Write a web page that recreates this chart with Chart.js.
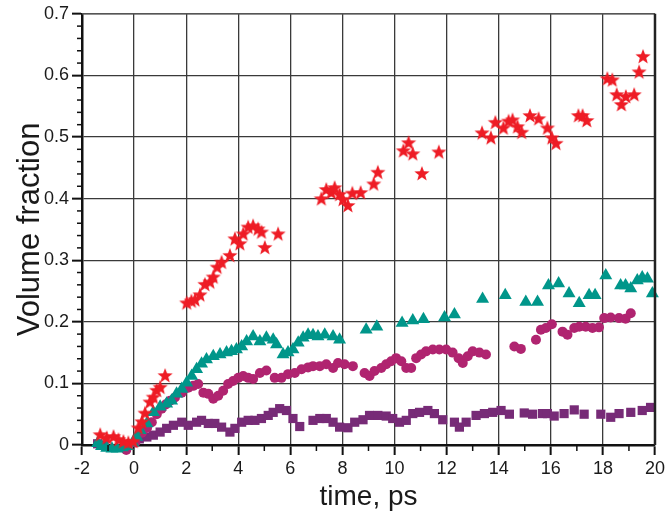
<!DOCTYPE html>
<html>
<head>
<meta charset="utf-8">
<script src="https://cdn.jsdelivr.net/npm/chart.js@4.4.1/dist/chart.umd.min.js"></script>
<style>
  html, body { margin: 0; padding: 0; background: #fff; }
  canvas { display: block; }
</style>
</head>
<body>
<canvas id="grafico" width="668" height="517"></canvas>
<script>
// series: [time (ps), volume fraction]
const estrelas = [[-1.30,0.016],[-1.05,0.011],[-0.79,0.013],[-0.60,0.008],[-0.41,0.005],[-0.22,0.003],[-0.03,0.005],[0.16,0.027],[0.30,0.037],[0.42,0.051],[0.61,0.069],[0.74,0.077],[0.87,0.088],[1.00,0.093],[1.19,0.112],
  [2.02,0.230],[2.20,0.233],[2.34,0.235],[2.53,0.243],[2.72,0.260],[2.91,0.264],[3.04,0.272],[3.19,0.288],[3.36,0.296],[3.68,0.307],[3.87,0.334],[4.06,0.326],[4.19,0.342],[4.38,0.353],[4.57,0.355],[4.76,0.350],[4.89,0.345],[5.02,0.320],[5.53,0.342],
  [7.19,0.399],[7.38,0.414],[7.57,0.409],[7.70,0.417],[7.89,0.406],[8.02,0.398],[8.21,0.388],[8.38,0.408],[8.70,0.409],[9.20,0.423],[9.36,0.442],[10.34,0.477],[10.54,0.490],[10.70,0.472],[11.05,0.440],[11.70,0.475],
  [13.36,0.506],[13.70,0.498],[13.87,0.523],[14.18,0.514],[14.38,0.525],[14.53,0.527],[14.72,0.516],[14.88,0.507],[15.20,0.534],[15.53,0.529],[15.87,0.514],[16.04,0.498],[16.20,0.489],[17.06,0.534],[17.22,0.534],[17.38,0.526],
  [18.17,0.594],[18.36,0.592],[18.53,0.568],[18.71,0.552],[18.88,0.565],[19.20,0.568],[19.39,0.605],[19.54,0.630]];

const triangulos = [[-1.40,0.003],[-1.25,-0.002],[-1.05,-0.005],[-0.85,-0.006],[-0.65,-0.006],[-0.45,-0.004],[-0.25,-0.002],[-0.05,0.004],[0.10,0.013],[0.23,0.024],[0.49,0.035],[0.74,0.053],[1.00,0.062],[1.25,0.067],[1.44,0.072],[1.63,0.083],[1.83,0.091],
  [2.02,0.101],[2.21,0.112],[2.40,0.123],[2.59,0.132],[2.78,0.139],[3.04,0.144],[3.30,0.147],[3.55,0.150],[3.74,0.152],[3.93,0.155],[4.13,0.160],[4.32,0.168],[4.57,0.176],[4.83,0.168],[5.08,0.174],[5.34,0.171],[5.47,0.163],[5.72,0.147],[5.91,0.150],
  [6.10,0.155],[6.30,0.166],[6.49,0.174],[6.68,0.179],[6.87,0.178],[7.06,0.176],[7.32,0.179],[7.64,0.176],[7.89,0.171],[8.91,0.187],[9.32,0.192],[10.29,0.198],[10.70,0.202],[11.11,0.204],[11.92,0.207],[12.30,0.212],
  [13.38,0.237],[14.25,0.243],[15.04,0.232],[15.49,0.232],[15.91,0.259],[16.30,0.262],[16.70,0.246],[17.09,0.230],[17.47,0.243],[17.70,0.243],[18.11,0.275],[18.68,0.259],[18.87,0.259],[19.07,0.254],[19.32,0.267],[19.51,0.272],[19.71,0.270],[19.90,0.246]];

const circulos = [[-0.30,-0.008],[-0.15,-0.012],[0.05,0.004],[0.30,0.020],[0.50,0.028],[0.68,0.037],[0.87,0.050],[1.06,0.059],[1.22,0.066],[1.38,0.072],[1.57,0.077],[1.83,0.085],[2.08,0.093],[2.27,0.096],[2.46,0.099],[2.66,0.085],[2.85,0.083],[3.04,0.075],
  [3.23,0.080],[3.42,0.088],[3.61,0.099],[3.80,0.104],[4.00,0.109],[4.19,0.112],[4.38,0.109],[4.57,0.107],[4.83,0.117],[5.08,0.121],[5.40,0.109],[5.66,0.109],[5.91,0.115],[6.17,0.117],[6.43,0.123],[6.68,0.126],[6.87,0.128],[7.13,0.128],
  [7.38,0.131],[7.64,0.125],[7.83,0.133],[8.08,0.131],[8.40,0.128],[8.85,0.117],[9.04,0.112],[9.23,0.120],[9.49,0.125],[9.68,0.131],[9.87,0.136],[10.06,0.141],[10.26,0.136],[10.45,0.125],[10.64,0.125],[10.83,0.141],[11.02,0.147],[11.21,0.152],
  [11.47,0.155],[11.72,0.155],[11.98,0.155],[12.23,0.150],[12.46,0.141],[12.62,0.133],[12.81,0.144],[13.00,0.152],[13.26,0.150],[13.51,0.147],[14.60,0.160],[14.85,0.156],[15.43,0.171],[15.62,0.187],[15.81,0.190],[16.04,0.196],
  [16.45,0.184],[16.64,0.179],[16.90,0.190],[17.09,0.192],[17.34,0.192],[17.60,0.190],[17.85,0.191],[18.05,0.206],[18.30,0.207],[18.62,0.206],[18.87,0.205],[19.07,0.214]];

const quadrados = [[-1.40,0.002],[-1.15,0.000],[0.20,0.010],[0.49,0.013],[0.74,0.016],[1.00,0.021],[1.25,0.027],[1.51,0.032],[1.83,0.037],[2.08,0.032],[2.40,0.037],[2.59,0.040],[2.85,0.035],[3.10,0.035],[3.36,0.029],[3.68,0.021],[3.87,0.027],
  [4.13,0.037],[4.38,0.040],[4.64,0.040],[4.89,0.043],[5.15,0.048],[5.34,0.053],[5.59,0.059],[5.85,0.056],[6.10,0.043],[6.36,0.030],[6.87,0.040],[7.13,0.043],[7.38,0.043],[7.64,0.037],[7.89,0.029],[8.21,0.028],[8.47,0.037],[8.79,0.041],
  [9.04,0.048],[9.36,0.048],[9.68,0.047],[9.93,0.043],[10.19,0.037],[10.45,0.040],[10.70,0.051],[10.96,0.053],[11.28,0.056],[11.53,0.051],[11.85,0.041],[12.30,0.037],[12.49,0.029],[12.75,0.037],[13.13,0.048],[13.45,0.051],[13.77,0.053],
  [14.09,0.056],[14.41,0.050],[14.98,0.052],[15.30,0.050],[15.68,0.051],[15.87,0.051],[16.13,0.047],[16.51,0.051],[16.90,0.057],[17.28,0.050],[17.92,0.050],[18.30,0.045],[18.62,0.051],[19.07,0.053],[19.51,0.056],[19.83,0.061]];

const FONTE = "'Liberation Sans', Arial, sans-serif";

// estrela de 5 pontas desenhada num canvas pequeno (o 'star' do Chart.js é um asterisco)
function criarEstrela(raio, cor) {
    const tam = Math.ceil(raio * 2 + 2);
    const c = document.createElement('canvas');
    c.width = tam; c.height = tam;
    const g = c.getContext('2d');
    g.fillStyle = cor;
    g.beginPath();
    for (let i = 0; i < 10; i++) {
        const r = i % 2 === 0 ? raio : raio * 0.42;
        const a = -Math.PI / 2 + i * Math.PI / 5;
        const px = tam / 2 + r * Math.cos(a), py = tam / 2 + r * Math.sin(a);
        if (i === 0) g.moveTo(px, py); else g.lineTo(px, py);
    }
    g.closePath();
    g.fill();
    return c;
}

function serie(dados) {
    return dados.map(p => ({ x: p[0], y: p[1] }));
}

// moldura e ticks menores
const moldura = {
    id: 'moldura',
    afterDraw(chart) {
        const { ctx, chartArea: a, scales } = chart;
        ctx.save();
        ctx.strokeStyle = '#111';
        ctx.lineWidth = 1.5;
        for (let v = -1; v < 20; v += 2) {
            const px = scales.x.getPixelForValue(v);
            ctx.beginPath(); ctx.moveTo(px, a.bottom); ctx.lineTo(px, a.bottom + 6); ctx.stroke();
        }
        for (let k = 1; k < 35; k++) {
            if (k % 5 === 0) continue;
            const py = scales.y.getPixelForValue(k * 0.02);
            ctx.beginPath(); ctx.moveTo(a.left - 5, py); ctx.lineTo(a.left, py); ctx.stroke();
        }
        ctx.strokeStyle = '#555';
        ctx.lineWidth = 1.5;
        ctx.beginPath(); ctx.moveTo(a.left, a.top); ctx.lineTo(a.right, a.top); ctx.stroke();
        ctx.strokeStyle = '#222';
        ctx.lineWidth = 2.5;
        ctx.beginPath(); ctx.moveTo(a.right, a.top); ctx.lineTo(a.right, a.bottom); ctx.stroke();
        ctx.restore();
    }
};

const ctx = document.getElementById('grafico').getContext('2d');
new Chart(ctx, {
    type: 'scatter',
    data: {
        datasets: [
            { label: 'a', data: serie(estrelas), pointStyle: criarEstrela(8, '#ee1c25'), pointRadius: 8, clip: false },
            { label: 'b', data: serie(triangulos), pointStyle: 'triangle', pointRadius: 7.5, backgroundColor: '#00968a', borderColor: '#00968a', borderWidth: 0, clip: false },
            { label: 'c', data: serie(circulos), pointStyle: 'circle', pointRadius: 5, backgroundColor: '#b02470', borderColor: '#b02470', borderWidth: 0, clip: false },
            { label: 'd', data: serie(quadrados), pointStyle: 'rect', pointRadius: 6.5, backgroundColor: '#772b77', borderColor: '#772b77', borderWidth: 0, clip: false }
        ]
    },
    options: {
        responsive: false,
        animation: false,
        devicePixelRatio: 1,
        layout: { padding: { top: 8, right: 12, left: 0, bottom: 0 } },
        plugins: { legend: { display: false }, tooltip: { enabled: false } },
        scales: {
            x: {
                type: 'linear', min: -2, max: 20,
                afterFit: s => { s.height = 72; },
                ticks: { stepSize: 2, color: '#1a1a1a', font: { family: FONTE, size: 18 }, padding: 3, maxRotation: 0 },
                grid: { color: '#3a3a3a', lineWidth: 1.3, tickLength: 10, tickColor: '#111', tickWidth: 2 },
                border: { display: true, color: '#111', width: 2.5 },
                title: { display: true, text: 'time, ps', color: '#1a1a1a', font: { family: FONTE, size: 28 }, padding: { top: 3, bottom: 3 } }
            },
            y: {
                type: 'linear', min: 0, max: 0.7,
                afterFit: s => { s.width = 82; },
                ticks: { stepSize: 0.1, color: '#1a1a1a', font: { family: FONTE, size: 18 }, padding: 3 },
                grid: { color: '#3a3a3a', lineWidth: 1.3, tickLength: 10, tickColor: '#111', tickWidth: 2 },
                border: { display: true, color: '#111', width: 2.5 },
                title: { display: true, text: 'Volume fraction', color: '#1a1a1a', font: { family: FONTE, size: 31 }, padding: { top: 12, bottom: 0 } }
            }
        }
    },
    plugins: [moldura]
});
</script>
</body>
</html>
